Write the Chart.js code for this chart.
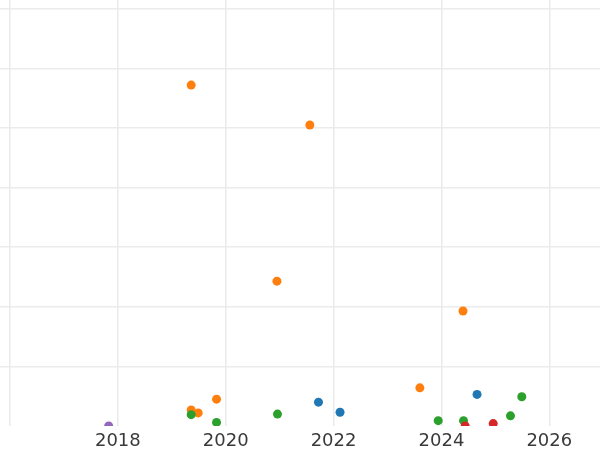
<!DOCTYPE html>
<html>
<head>
<meta charset="utf-8">
<script src="https://cdn.jsdelivr.net/npm/chart.js@4/dist/chart.umd.min.js"></script>
<style>
html,body{margin:0;padding:0;background:#fff;overflow:hidden;}
canvas{display:block;}
</style>
</head>
<body>
<canvas id="c" width="600" height="450"></canvas>
<script>
// Series values: [year, value]
const seriesNames = ["blue", "orange", "green", "red", "purple"];
const blueX = [2021.72, 2022.12, 2024.66];
const blueY = [0.40, 0.23, 0.53];
const orangeX = [2019.36, 2021.56, 2020.95, 2024.40, 2023.60, 2019.83, 2019.36, 2019.49];
const orangeY = [5.72, 5.05, 2.43, 1.93, 0.64, 0.45, 0.27, 0.22];
const greenX = [2019.36, 2019.83, 2020.96, 2023.94, 2024.41, 2025.28, 2025.49];
const greenY = [0.19, 0.06, 0.20, 0.09, 0.09, 0.17, 0.49];
const redX = [2024.44, 2024.96];
const redY = [0.0, 0.04];
const purpleX = [2017.83];
const purpleY = [0.0];
const xTicks = [2016, 2018, 2020, 2022, 2024, 2026];
const yTicks = [0, 1, 2, 3, 4, 5, 6, 7];

const colors = ["#1f77b4", "#ff7f0e", "#2ca02c", "#d62728", "#9467bd"];
const xs = [blueX, orangeX, greenX, redX, purpleX];
const ys = [blueY, orangeY, greenY, redY, purpleY];

const datasets = seriesNames.map((n, i) => ({
  label: n,
  data: xs[i].map((x, j) => ({x: x, y: ys[i][j]})),
  backgroundColor: colors[i],
  borderColor: colors[i],
  borderWidth: 0,
  pointRadius: 4.5,
  pointHoverRadius: 4.5,
  clip: 0,
  order: seriesNames.length - i
}));

new Chart(document.getElementById('c'), {
  type: 'scatter',
  data: {datasets: datasets},
  options: {
    responsive: false,
    animation: false,
    layout: {padding: 0, autoPadding: false},
    plugins: {legend: {display: false}, tooltip: {enabled: false}},
    scales: {
      x: {
        type: 'linear',
        min: 2015.815,
        max: 2026.94,
        afterBuildTicks: (s) => { s.ticks = xTicks.map(v => ({value: v})); },
        afterFit: (s) => { s.height = 24; s.paddingLeft = 0; s.paddingRight = 0; },
        ticks: {
          padding: 5,
          color: '#3a3a3a',
          font: {family: 'DejaVu Sans', size: 18},
          callback: (v) => (v === 2016 ? '' : String(v)),
          maxRotation: 0,
          autoSkip: false
        },
        grid: {color: '#ebebeb', lineWidth: 1.6, drawTicks: false},
        border: {display: false}
      },
      y: {
        type: 'linear',
        min: 0,
        max: 7.148,
        afterBuildTicks: (s) => { s.ticks = yTicks.map(v => ({value: v})); },
        afterFit: (s) => { s.width = 0; s.paddingTop = 0; s.paddingBottom = 0; },
        ticks: {display: false},
        grid: {
          color: (ctx) => (ctx.tick && ctx.tick.value === 0 ? 'rgba(0,0,0,0)' : '#ebebeb'),
          lineWidth: 1.6,
          drawTicks: false
        },
        border: {display: false}
      }
    }
  }
});
</script>
</body>
</html>
